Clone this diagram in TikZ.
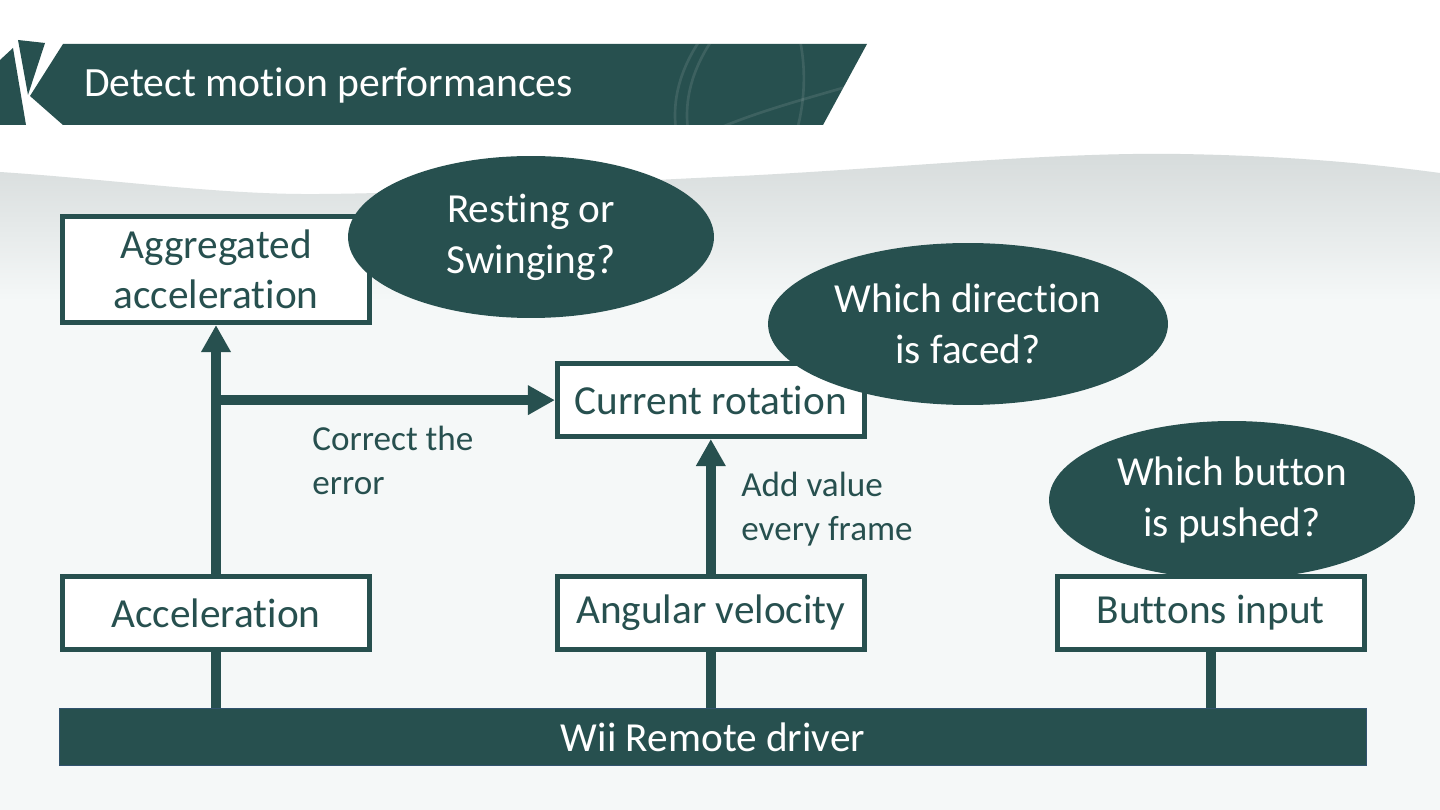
\documentclass[tikz,border=0pt]{standalone}
\usepackage{fontspec}
\setmainfont{Carlito}[Ligatures=NoCommon]
\usetikzlibrary{arrows.meta,
		positioning,
		shapes.geometric}
\definecolor{wiiteal}{HTML}{27504F}
\definecolor{wavegray}{HTML}{D6DBDB}
\definecolor{pagebg}{HTML}{F5F8F8}
\definecolor{barline}{HTML}{31536E}

\begin{document}
\begin{tikzpicture}[
				x=0.02cm, y=-0.02cm,
				node distance=3.7cm,
				box/.style={rectangle,draw=wiiteal,fill=white,line width=2.8pt,text=wiiteal,
					minimum width=6.14cm,minimum height=1.46cm,inner sep=0pt,align=center,
					font=\fontsize{23.5}{28.5}\selectfont},
				bubble/.style={ellipse,fill=wiiteal,text=white,inner sep=0pt,align=center,
					minimum width=7.32cm,minimum height=3.24cm,font=\fontsize{23.5}{29}\selectfont},
				note/.style={anchor=west,text=wiiteal,inner sep=0pt,align=left,
					font=\fontsize{20}{25}\selectfont},
				link/.style={draw=wiiteal,line width=5.7pt,-{Triangle[width=0.56cm,length=0.54cm]}},
				wire/.style={draw=wiiteal,line width=5.7pt}
				]
		% background and title banner
		\useasboundingbox (0,0) rectangle (1440,810);
		\fill[white] (0,0) rectangle (1440,810);
		\fill[pagebg] (0,300) rectangle (1440,810);
		\shade[top color=wavegray,bottom color=pagebg]
			(0,172) .. controls (120,180) and (220,195) .. (320,194)
			.. controls (450,193) and (600,182) .. (740,176)
			.. controls (900,168) and (1050,152) .. (1180,154)
			.. controls (1300,156) and (1380,165) .. (1440,173)
			-- (1440,301) -- (0,301) -- cycle;
		\fill[wiiteal] (0,60) -- (13,48) -- (26,125) -- (0,125) -- cycle;
		\fill[wiiteal] (18,40) -- (45,43) -- (28,95) -- cycle;
		\fill[wiiteal] (63,44) -- (867,44) -- (823,125) -- (63,125) -- (30,96) -- cycle;
		\begin{scope}
			\clip (63,44) -- (867,44) -- (823,125) -- (63,125) -- cycle;
			\draw[white,opacity=0.1,line width=1.5pt] (700,40) .. controls (680,70) and (672,100) .. (676,130);
			\draw[white,opacity=0.1,line width=1.5pt] (712,40) .. controls (692,70) and (684,100) .. (688,130);
			\draw[white,opacity=0.1,line width=1.5pt] (800,40) .. controls (806,70) and (805,100) .. (797,130);
			\draw[white,opacity=0.1,line width=1.5pt] (715,130) .. controls (760,110) and (820,95) .. (870,80);
		\end{scope}
		\node[anchor=base west,text=white,inner sep=0pt,font=\fontsize{23.7}{28}\selectfont] (title) at (84,97) {Detect motion performances};

		% sensor boxes
		\node[box] (acc) at (216,613) {Acceleration};
		\node[box,right=3.66cm of acc] (ang) {Angular velocity};
		\node[box,right=3.76cm of ang] (btn) {Buttons input};
		\node[box,above=2.7cm of ang] (rot) {Current rotation};
		\node[box,minimum height=2.12cm,above=4.98cm of acc] (agg) {Aggregated\\acceleration};
		\node[fill=wiiteal,draw=barline,line width=0.6pt,text=white,minimum width=26.14cm,
			minimum height=1.14cm,inner sep=0pt,font=\fontsize{23.5}{28.5}\selectfont] (drv) at (713,737) {Wii Remote driver};

		% connectors
		\coordinate (br) at (acc.north |- rot.west);
		\draw[link] (acc) -- (agg);
		\draw[link] (br) -- (rot);
		\draw[link] (ang) -- (rot);
		\draw[wire] (acc) -- (acc |- drv.north);
		\draw[wire] (ang) -- (ang |- drv.north);
		\draw[wire] (btn) -- (btn |- drv.north);

		% questions
		\node[bubble] (rest) at (531,237) {Resting or\\Swinging?};
		\node[bubble,minimum width=8cm] (dir) at (968,324) {Which direction\\is faced?};
		\node[bubble,minimum height=3.16cm] (push) at (1232,500) {Which button\\is pushed?};

		\node[note] (err) at (312,460) {Correct the\\error};
		\node[note] (add) at (741,509) {Add value\\every frame};
\end{tikzpicture}
\end{document}
